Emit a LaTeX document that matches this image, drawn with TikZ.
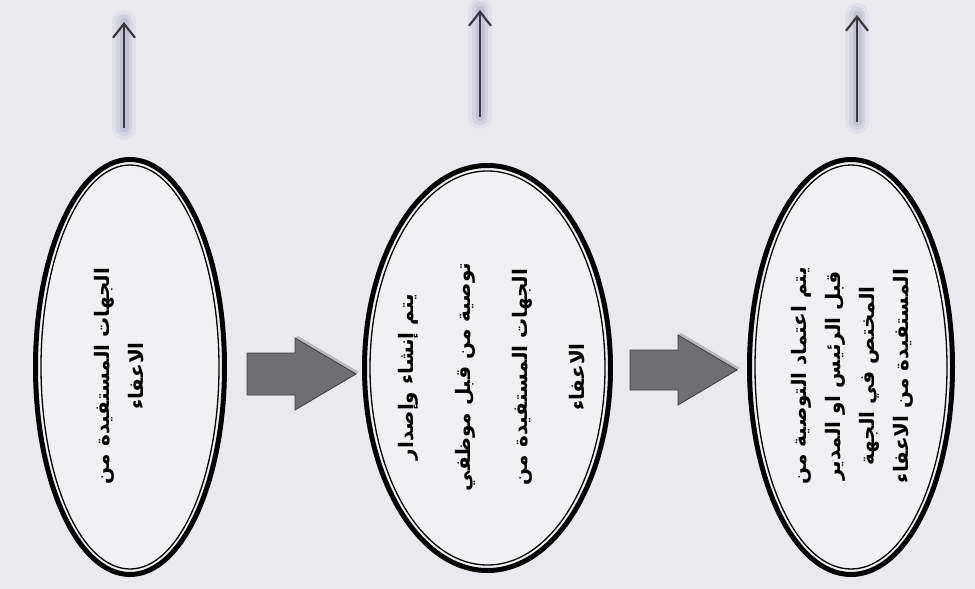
\documentclass[tikz,border=0pt]{standalone}
\usepackage{fontspec}
\newfontfamily\arabicfont[Script=Arabic]{DejaVu Sans}
\TeXXeTstate=1
\usetikzlibrary{shapes.geometric,arrows.meta}
\definecolor{paper}{HTML}{EAEAEE}
\definecolor{ovalfill}{HTML}{F1F1F4}
\definecolor{arrowgray}{HTML}{6F6F72}
\definecolor{arrowedge}{HTML}{3C3C40}
\definecolor{upgray}{HTML}{3A3A3E}
\tikzset{
  oval/.style={ellipse, draw=black, line width=5pt, fill=ovalfill, inner sep=0pt},
  ring/.style={draw=black, line width=1.3pt},
  otext/.style={rotate=90, align=center, inner sep=0pt,
    font=\arabicfont\bfseries\fontsize{20}{34}\selectfont},
  blockarrow/.style={fill=arrowgray, draw=arrowedge, line width=0.8pt, line join=miter},
  blockshade/.style={fill=gray!55},
  uparrow/.style={draw=upgray, line width=2.2pt, -{Straight Barb[length=14pt,width=22pt,line width=2.2pt]}},
  glowA/.style={draw=gray!80!blue, line width=24pt, opacity=0.07, line cap=round},
  glowB/.style={draw=gray!80!blue, line width=16pt, opacity=0.10, line cap=round},
  glowC/.style={draw=gray!80!blue, line width=9pt, opacity=0.14, line cap=round}
}
\begin{document}
\begin{tikzpicture}[x=1pt,y=-1pt]
\fill[paper] (0,0) rectangle (975,589);
\useasboundingbox (0,0) rectangle (975,589);

% ovals
\node[oval, minimum width=189pt, minimum height=415pt] (e1) at (130,367) {};
\draw[ring] (e1.center) ellipse [x radius=89, y radius=202];
\node[oval, minimum width=246pt, minimum height=405pt] (e2) at (487.5,368) {};
\draw[ring] (e2.center) ellipse [x radius=117.5, y radius=197];
\node[oval, minimum width=203pt, minimum height=415pt] (e3) at (851,367) {};
\draw[ring] (e3.center) ellipse [x radius=96, y radius=202];

% texts
\node[otext] (t1) at (119,376) {\beginR الجهات المستفيدة من\endR\\\beginR الاعفاء\endR};
\node[otext, font=\arabicfont\bfseries\fontsize{20}{57}\selectfont] (t2) at (492,377)
  {\beginR يتم إنشاء وإصدار\endR\\\beginR توصية من قبل موظفي\endR\\\beginR الجهات المستفيدة من\endR\\\beginR الاعفاء\endR};
\node[otext] (t3) at (852,376)
  {\beginR يتم اعتماد التوصية من\endR\\\beginR قبل الرئيس او المدير\endR\\\beginR المختص في الجهة\endR\\\beginR المستفيدة من الاعفاء\endR};

% block arrows
\fill[blockshade] (298,336) -- (359,372) -- (356,374) -- (295,338) -- cycle;
\draw[blockarrow] (247,353) -- (295,353) -- (295,338) -- (356,374) -- (295,410) -- (295,395) -- (247,395) -- cycle;
\fill[blockshade] (681,333) -- (740,368) -- (737,370) -- (678,335) -- cycle;
\draw[blockarrow] (630,350) -- (678,350) -- (678,335) -- (737,370) -- (678,405) -- (678,390) -- (630,390) -- cycle;

% up arrows
\coordinate (u1s) at (124,128); \coordinate (u1e) at (124,22);
\coordinate (u2s) at (480,117); \coordinate (u2e) at (480,10);
\coordinate (u3s) at (857,122); \coordinate (u3e) at (857,15);
\foreach \s/\e in {u1s/u1e,u2s/u2e,u3s/u3e}{
  \draw[glowA] (\s) -- (\e);
  \draw[glowB] (\s) -- (\e);
  \draw[glowC] (\s) -- (\e);
  \draw[uparrow] (\s) -- (\e);
}
\end{tikzpicture}
\end{document}
